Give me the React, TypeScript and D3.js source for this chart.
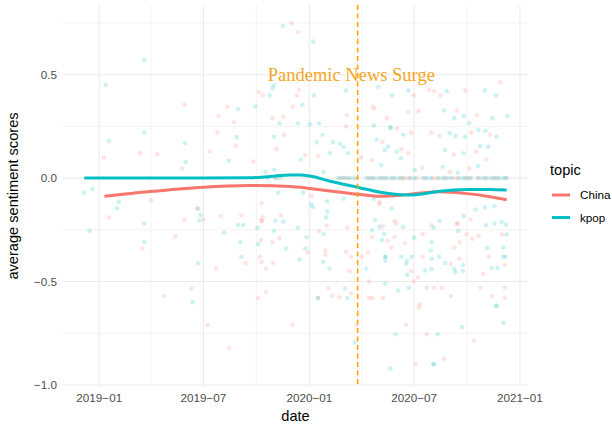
import React from 'react';
import * as d3 from 'd3';

const parse = d3.timeParse('%Y-%m-%d');

const topics = ['China', 'kpop'];
const topicColors = ['#F8766D', '#00BFC4'];

const xMajorTicks = ['2019-01-01', '2019-07-01', '2020-01-01', '2020-07-01', '2021-01-01'];
const xMajorLabels = ['2019\u221201', '2019\u221207', '2020\u221201', '2020\u221207', '2021\u221201'];
const xMinorTicks = ['2019-04-01', '2019-10-01', '2020-04-01', '2020-10-01'];
const yMajorTicks = [-1, -0.5, 0, 0.5];
const yMajorLabels = ['\u22121.0', '\u22120.5', '0.0', '0.5'];
const yMinorTicks = [-0.75, -0.25, 0.25, 0.75];

const surgeDate = '2020-03-25';
const surgeLabelDate = '2020-03-14';
const surgeLabelValue = 0.5;
const surgeLabel = 'Pandemic News Surge';

const kpopPoints: [string, number][] = [
  ['2019-03-20', 0.57], ['2019-01-12', 0.45], ['2019-01-18', 0.18], ['2019-03-20', 0.22],
  ['2019-05-30', 0.17], ['2019-05-31', 0.078], ['2018-12-06', -0.07], ['2018-12-20', -0.053],
  ['2019-02-04', -0.115], ['2019-02-01', -0.146], ['2018-12-15', -0.254], ['2019-03-20', -0.22],
  ['2019-03-20', -0.31], ['2019-06-22', -0.147], ['2019-06-26', -0.178], ['2019-06-24', -0.205],
  ['2019-06-22', -0.413], ['2019-06-12', -0.6], ['2019-11-16', 0.735], ['2020-01-08', 0.66],
  ['2019-11-01', 0.45], ['2019-10-29', 0.435], ['2019-10-24', 0.4], ['2020-01-09', 0.4],
  ['2019-12-20', 0.355], ['2019-09-29', 0.346], ['2019-08-30', 0.333], ['2019-11-10', 0.265],
  ['2019-12-12', 0.265], ['2020-01-02', 0.26], ['2020-01-18', 0.265], ['2019-08-28', 0.198],
  ['2019-11-01', 0.2], ['2020-01-24', 0.21], ['2020-01-14', 0.173], ['2020-02-11', 0.173],
  ['2020-02-24', 0.165], ['2020-03-01', 0.149], ['2020-02-06', 0.12], ['2019-12-17', 0.09],
  ['2019-08-14', 0.084], ['2019-10-17', 0.03], ['2019-11-01', 0.04], ['2020-01-26', 0.03],
  ['2020-03-08', 0.12], ['2020-03-05', 0.424], ['2019-11-08', -0.07], ['2019-12-21', -0.07],
  ['2020-01-04', -0.128], ['2020-01-07', -0.14], ['2020-02-01', -0.112], ['2020-03-01', -0.1],
  ['2019-08-30', -0.227], ['2019-09-08', -0.227], ['2019-11-03', -0.207], ['2019-11-17', -0.21],
  ['2019-12-12', -0.24], ['2019-08-06', -0.264], ['2019-10-03', -0.24], ['2019-11-01', -0.256],
  ['2019-09-03', -0.31], ['2019-10-04', -0.32], ['2019-11-22', -0.34], ['2019-12-27', -0.286],
  ['2019-12-25', -0.34], ['2019-09-05', -0.38], ['2019-12-15', -0.393], ['2020-01-25', -0.405],
  ['2020-02-05', -0.437], ['2020-01-26', -0.27], ['2020-01-30', -0.19], ['2020-02-01', -0.16],
  ['2020-04-09', -0.437], ['2020-01-16', -0.58], ['2020-03-03', -0.534], ['2020-03-07', -0.58],
  ['2020-03-20', -0.795],
  ['2020-11-20', 0.4], ['2020-11-01', 0.424], ['2020-08-27', 0.42], ['2020-06-21', 0.424],
  ['2020-05-24', 0.4], ['2020-04-30', 0.44], ['2020-08-22', 0.327], ['2020-12-10', 0.3],
  ['2020-11-14', 0.29], ['2020-09-09', 0.29], ['2020-09-25', 0.3], ['2020-10-05', 0.265],
  ['2020-05-21', 0.244], ['2020-05-21', 0.244], ['2020-04-22', 0.254], ['2020-06-12', 0.21],
  ['2020-09-01', 0.217], ['2020-09-11', 0.204], ['2020-09-28', 0.2], ['2020-10-21', 0.233],
  ['2020-11-02', 0.228], ['2020-11-21', 0.2], ['2020-04-27', 0.187], ['2020-05-17', 0.152],
  ['2020-05-11', 0.136], ['2020-06-01', 0.128], ['2020-08-24', 0.136], ['2020-09-25', 0.12],
  ['2020-10-24', 0.155], ['2020-11-07', 0.152], ['2020-10-20', 0.058], ['2020-05-05', 0.063],
  ['2020-07-02', 0.04], ['2020-08-20', 0.055], ['2020-09-15', 0.026], ['2020-06-08', 0.096],
  ['2020-05-23', -0.147], ['2020-04-22', -0.1], ['2020-04-24', -0.204], ['2020-05-02', -0.236],
  ['2020-06-12', -0.236], ['2020-04-19', -0.252], ['2020-05-10', -0.27], ['2020-05-06', -0.3],
  ['2020-05-12', -0.38], ['2020-05-12', -0.38], ['2020-05-12', -0.4], ['2020-06-09', -0.38],
  ['2020-06-19', -0.4], ['2020-06-17', -0.415], ['2020-06-27', -0.38], ['2020-06-19', -0.468],
  ['2020-07-01', -0.288], ['2020-08-04', -0.24], ['2020-08-14', -0.207], ['2020-08-01', -0.31],
  ['2020-07-30', -0.35], ['2020-08-01', -0.39], ['2020-08-14', -0.38], ['2020-07-20', -0.447],
  ['2020-07-31', -0.44], ['2020-08-24', -0.41], ['2020-09-09', -0.44], ['2020-09-11', -0.455],
  ['2020-09-16', -0.256], ['2020-09-25', -0.184], ['2020-09-24', -0.42], ['2020-09-24', -0.45],
  ['2020-10-16', -0.152], ['2020-11-01', -0.142], ['2020-11-18', -0.136], ['2020-11-03', -0.228],
  ['2020-11-18', -0.22], ['2020-11-30', -0.212], ['2020-12-08', -0.225], ['2020-12-09', -0.273],
  ['2020-11-05', -0.338], ['2020-12-03', -0.38], ['2020-12-07', -0.38], ['2020-12-03', -0.336],
  ['2020-11-13', -0.435], ['2020-11-23', -0.435], ['2020-06-03', -0.544], ['2020-06-22', -0.53],
  ['2020-05-12', -0.51], ['2020-11-21', -0.617], ['2020-11-21', -0.617], ['2020-12-03', -0.7],
  ['2020-09-22', -0.72], ['2020-05-30', -0.755], ['2020-08-11', -0.755], ['2020-05-21', -0.92],
  ['2020-08-04', -0.9], ['2020-08-04', -0.9],
];

const kpopZeroDates = [
  '2019-10-20', '2019-11-03', '2019-11-12', '2020-02-20', '2020-02-27', '2020-03-05', '2020-03-12',
  '2020-03-19', '2020-04-09', '2020-04-16', '2020-04-23', '2020-04-30', '2020-05-07', '2020-05-14',
  '2020-05-21', '2020-05-28', '2020-06-04', '2020-06-11', '2020-06-25', '2020-07-02', '2020-07-16',
  '2020-07-23', '2020-07-30', '2020-08-13', '2020-08-20', '2020-08-27', '2020-09-03', '2020-09-17',
  '2020-09-24', '2020-10-01', '2020-10-08', '2020-10-22', '2020-10-29', '2020-11-05', '2020-11-12',
  '2020-11-19', '2020-11-26', '2020-12-03', '2020-12-09',
];

const chinaPoints: [string, number][] = [
  ['2019-05-29', 0.355], ['2019-07-27', 0.3], ['2019-07-25', 0.22], ['2019-01-09', 0.1],
  ['2019-03-13', 0.12], ['2019-04-12', 0.115], ['2019-05-25', 0.045], ['2019-07-12', 0.13],
  ['2019-01-18', -0.19], ['2019-04-01', -0.107], ['2019-03-17', -0.34], ['2019-05-13', -0.283],
  ['2019-05-29', -0.2], ['2019-07-01', -0.2], ['2019-06-20', -0.147], ['2019-07-23', -0.437],
  ['2019-06-10', -0.534], ['2019-04-23', -0.57], ['2019-07-08', -0.71], ['2019-12-01', 0.75],
  ['2019-12-13', 0.705], ['2019-10-05', 0.416], ['2019-10-12', 0.4], ['2019-12-14', 0.427],
  ['2019-12-10', 0.4], ['2019-12-03', 0.345], ['2019-11-17', 0.295], ['2019-10-29', 0.29],
  ['2019-08-23', 0.27], ['2019-08-26', 0.157], ['2019-11-18', 0.21], ['2019-11-05', 0.14],
  ['2019-12-25', 0.112], ['2020-01-16', 0.108], ['2019-09-26', 0.08], ['2020-03-06', 0.305],
  ['2020-03-05', 0.25], ['2020-03-31', 0.1], ['2020-04-20', 0.346], ['2019-08-12', 0.346],
  ['2020-01-05', -0.087], ['2019-10-10', -0.12], ['2019-07-31', -0.184], ['2019-09-05', -0.18],
  ['2019-10-10', -0.207], ['2019-10-10', -0.207], ['2019-10-12', -0.19], ['2019-11-13', -0.18],
  ['2019-10-09', -0.3], ['2019-10-29', -0.31], ['2019-11-10', -0.29], ['2019-12-29', -0.36],
  ['2019-09-12', -0.41], ['2019-10-07', -0.38], ['2019-10-10', -0.405], ['2019-10-18', -0.437],
  ['2019-10-30', -0.41], ['2020-01-29', -0.35], ['2020-01-29', -0.37], ['2020-01-18', -0.257],
  ['2020-01-31', -0.23], ['2020-03-05', -0.357], ['2020-03-13', -0.38], ['2020-03-11', -0.45],
  ['2020-03-07', -0.24], ['2020-04-01', -0.38], ['2020-04-12', -0.36], ['2020-04-14', -0.5],
  ['2019-10-04', -0.58], ['2019-10-18', -0.55], ['2020-02-03', -0.534], ['2020-01-16', -0.58],
  ['2020-02-10', -0.57], ['2020-02-22', -0.576], ['2020-03-13', -0.557], ['2019-12-03', -0.71],
  ['2020-03-23', -0.71], ['2019-08-15', -0.82], ['2020-04-14', -0.58],
  ['2020-11-28', 0.463], ['2020-09-28', 0.424], ['2020-08-16', 0.4], ['2020-08-05', 0.42],
  ['2020-06-30', 0.4], ['2020-07-27', 0.427], ['2020-04-23', 0.335], ['2020-09-14', 0.327],
  ['2020-06-21', 0.32], ['2020-07-09', 0.325], ['2020-10-18', 0.305], ['2020-05-15', 0.29],
  ['2020-06-01', 0.24], ['2020-06-26', 0.22], ['2020-07-31', 0.22], ['2020-08-14', 0.204],
  ['2020-10-08', 0.22], ['2020-11-10', 0.21], ['2020-05-07', 0.176], ['2020-06-09', 0.14],
  ['2020-06-21', 0.12], ['2020-09-08', 0.115], ['2020-10-17', 0.128], ['2020-11-04', 0.09],
  ['2020-04-19', 0.087], ['2020-07-15', 0.05], ['2020-09-01', 0.03], ['2020-10-05', 0.047],
  ['2020-05-02', -0.126], ['2020-05-02', -0.115], ['2020-05-08', -0.233], ['2020-05-28', -0.207],
  ['2020-05-31', -0.22], ['2020-04-19', -0.285], ['2020-05-16', -0.304], ['2020-05-28', -0.285],
  ['2020-06-15', -0.314], ['2020-05-23', -0.336], ['2020-06-26', -0.45], ['2020-07-16', -0.27],
  ['2020-07-31', -0.228], ['2020-07-16', -0.38], ['2020-07-08', -0.48], ['2020-09-03', -0.414],
  ['2020-09-18', -0.39], ['2020-09-09', -0.336], ['2020-09-18', -0.31], ['2020-09-14', -0.22],
  ['2020-09-14', -0.22], ['2020-09-30', -0.27], ['2020-10-07', -0.2], ['2020-10-10', -0.293],
  ['2020-10-21', -0.28], ['2020-12-01', -0.272], ['2020-11-08', -0.38], ['2020-12-06', -0.42],
  ['2020-10-29', -0.463], ['2020-06-30', -0.5], ['2020-07-23', -0.53], ['2020-08-04', -0.53],
  ['2020-08-18', -0.53], ['2020-04-20', -0.58], ['2020-05-08', -0.58], ['2020-07-11', -0.61],
  ['2020-07-10', -0.625], ['2020-09-03', -0.57], ['2020-10-25', -0.53], ['2020-11-13', -0.57],
  ['2020-12-06', -0.53], ['2020-12-06', -0.58], ['2020-06-17', -0.71], ['2020-07-23', -0.755],
  ['2020-10-13', -0.786], ['2020-08-22', -0.875], ['2020-07-04', -0.9],
];

const chinaZeroDates = [
  '2019-11-05', '2020-02-24', '2020-03-02', '2020-03-09', '2020-03-23', '2020-04-13', '2020-04-20',
  '2020-05-04', '2020-05-11', '2020-05-25', '2020-06-08', '2020-06-15', '2020-06-22', '2020-07-06',
  '2020-07-20', '2020-08-03', '2020-08-10', '2020-08-24', '2020-09-07', '2020-09-14', '2020-09-28',
  '2020-10-05', '2020-10-19', '2020-11-02', '2020-11-16', '2020-11-23', '2020-12-07',
];

const kpopSmooth: [string, number][] = [
  ['2018-12-06', 0.0], ['2019-03-30', 0.0], ['2019-06-25', 0.0], ['2019-09-20', 0.002],
  ['2019-10-25', 0.008], ['2019-11-29', 0.015], ['2019-12-16', 0.015], ['2020-01-02', 0.01],
  ['2020-02-06', -0.015], ['2020-03-26', -0.045], ['2020-05-03', -0.068], ['2020-06-07', -0.08],
  ['2020-06-24', -0.082], ['2020-07-11', -0.078], ['2020-08-15', -0.063], ['2020-10-01', -0.055],
  ['2020-11-10', -0.055], ['2020-12-09', -0.058],
];

const chinaSmooth: [string, number][] = [
  ['2019-01-10', -0.088], ['2019-03-30', -0.065], ['2019-06-25', -0.045], ['2019-09-20', -0.036],
  ['2019-11-29', -0.04], ['2020-01-02', -0.05], ['2020-02-06', -0.062], ['2020-03-26', -0.078],
  ['2020-05-03', -0.088], ['2020-06-07', -0.083], ['2020-07-11', -0.072], ['2020-08-15', -0.066],
  ['2020-10-01', -0.075], ['2020-11-10', -0.09], ['2020-12-09', -0.105],
];

const SANS = 'Liberation Sans, Arial, Helvetica, sans-serif';
const SERIF = 'Liberation Serif, Times New Roman, serif';

export default function App() {
  const W = 612;
  const H = 427;
  const x = d3.scaleTime()
    .domain([parse('2018-10-30') as Date, parse('2021-01-15') as Date])
    .range([63, 528]);
  const y = d3.scaleLinear().domain([-1.01, 0.837]).range([387, 5]);
  const [x0, x1] = x.range();
  const [y0, y1] = y.range();

  const line = d3.line<[string, number]>()
    .x(d => x(parse(d[0]) as Date))
    .y(d => y(d[1]))
    .curve(d3.curveMonotoneX);

  const pointSets: { pts: [string, number][]; color: string }[] = [
    { pts: [...chinaPoints, ...chinaZeroDates.map(d => [d, 0] as [string, number])], color: topicColors[0] },
    { pts: [...kpopPoints, ...kpopZeroDates.map(d => [d, 0] as [string, number])], color: topicColors[1] },
  ];

  return (
    <svg width={W} height={H} style={{ position: 'absolute', left: 0, top: 0, background: '#fff' }}>
      {/* minor grid */}
      {xMinorTicks.map(t => (
        <line key={'xm' + t} x1={x(parse(t) as Date)} x2={x(parse(t) as Date)} y1={y1} y2={y0}
          stroke="#EBEBEB" strokeWidth={0.6} />
      ))}
      {yMinorTicks.map(t => (
        <line key={'ym' + t} x1={x0} x2={x1} y1={y(t)} y2={y(t)} stroke="#EBEBEB" strokeWidth={0.6} />
      ))}
      {/* major grid */}
      {xMajorTicks.map(t => (
        <line key={'xM' + t} x1={x(parse(t) as Date)} x2={x(parse(t) as Date)} y1={y1} y2={y0}
          stroke="#EBEBEB" strokeWidth={1.1} />
      ))}
      {yMajorTicks.map(t => (
        <line key={'yM' + t} x1={x0} x2={x1} y1={y(t)} y2={y(t)} stroke="#EBEBEB" strokeWidth={1.1} />
      ))}
      {/* points */}
      {pointSets.map((s, si) => (
        <g key={'ps' + si} fill={s.color} fillOpacity={0.2}>
          {s.pts.map((p, i) => (
            <circle key={i} cx={x(parse(p[0]) as Date)} cy={y(p[1])} r={2.3} />
          ))}
        </g>
      ))}
      {/* smooth lines */}
      <path d={line(chinaSmooth) || ''} fill="none" stroke={topicColors[0]} strokeWidth={3} />
      <path d={line(kpopSmooth) || ''} fill="none" stroke={topicColors[1]} strokeWidth={3} />
      {/* vline */}
      <line x1={x(parse(surgeDate) as Date)} x2={x(parse(surgeDate) as Date)} y1={y1} y2={y0}
        stroke="#FFA500" strokeWidth={1.6} strokeDasharray="5,3.5" />
      <text x={x(parse(surgeLabelDate) as Date)} y={y(surgeLabelValue)} dy="0.32em" textAnchor="middle"
        fontFamily={SERIF} fontSize={18.5} fill="#F5A623">{surgeLabel}</text>
      {/* axis labels */}
      {yMajorTicks.map((t, i) => (
        <text key={'yl' + t} x={57} y={y(t)} dy="0.35em" textAnchor="end" fontFamily={SANS}
          fontSize={11.7} fill="#4D4D4D">{yMajorLabels[i]}</text>
      ))}
      {xMajorTicks.map((t, i) => (
        <text key={'xl' + t} x={x(parse(t) as Date)} y={401.5} textAnchor="middle" fontFamily={SANS}
          fontSize={11.7} fill="#4D4D4D">{xMajorLabels[i]}</text>
      ))}
      <text x={(x0 + x1) / 2} y={421} textAnchor="middle" fontFamily={SANS} fontSize={14.6} fill="#000">date</text>
      <text transform={`translate(18, ${(y0 + y1) / 2}) rotate(-90)`} textAnchor="middle" fontFamily={SANS}
        fontSize={14.6} fill="#000">average sentiment scores</text>
      {/* legend */}
      <text x={550} y={175} fontFamily={SANS} fontSize={14.6} fill="#000">topic</text>
      {topics.map((t, i) => (
        <g key={'lg' + t}>
          <line x1={552} x2={570} y1={195 + i * 22.5} y2={195 + i * 22.5} stroke={topicColors[i]} strokeWidth={3} />
          <text x={580} y={195 + i * 22.5} dy="0.35em" fontFamily={SANS} fontSize={11.7} fill="#000">{t}</text>
        </g>
      ))}
    </svg>
  );
}
